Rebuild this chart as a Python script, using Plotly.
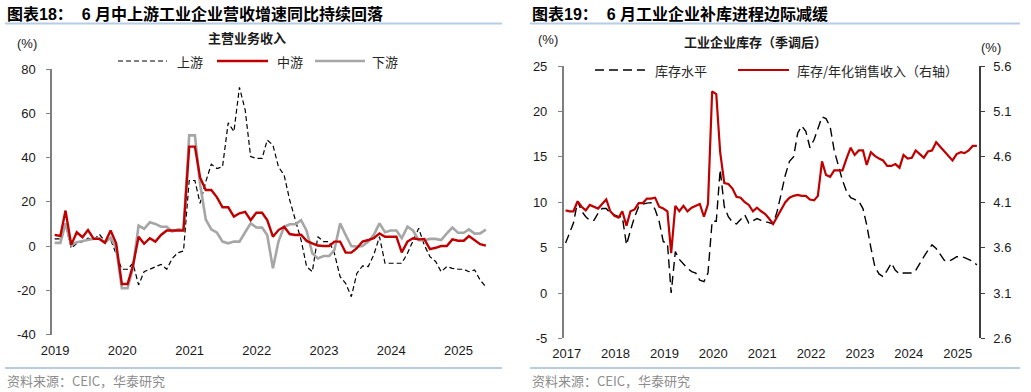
import plotly.graph_objects as go
import pandas as pd

W, H = 1031, 392

# ---------------- Left chart data: 主营业务收入 (Jan 2019 - Jun 2025) ----------------
left_months = pd.date_range("2019-01-01", "2025-06-01", freq="MS") + pd.Timedelta(days=14)
upstream = [3.2, 3.2, 9.8, -1.0, 1.2, 2.0, 3.6, 2.7, 5.3, 2.0, 3.0, -3.3,
            -10.5, -10.5, -7.8, -17.6, -11.6, -10.5, -9.3, -8.3, -10.5, -5.6, -3.0, -2.3,
            29.6, 29.6, 19.3, 29.0, 37.0, 35.0, 35.8, 55.7, 51.7, 71.7, 61.5, 40.4,
            39.6, 39.6, 47.9, 45.6, 35.8, 32.0, 20.8, 11.7, 2.7, -9.3, -11.6, 4.2,
            2.0, 2.0, -3.3, -13.9, -16.9, -22.9, -12.4, -9.0, -9.3, -4.0, 4.2, -7.8,
            -7.8, -7.8, -7.8, -3.3, 2.0, 8.0, 0.5, -4.8, -7.0, -11.6, -9.3, -10.1,
            -10.5, -10.5, -11.6, -10.8, -15.4, -18.4]
midstream = [5.0, 4.5, 16.0, 0.5, 6.2, 4.0, 7.2, 3.2, 3.2, 1.5, 7.0, 1.2,
             -17.2, -17.2, -9.0, 4.2, 1.0, 3.5, 2.0, 5.0, 7.0, 7.0, 6.8, 7.0,
             44.9, 44.9, 31.0, 25.3, 25.3, 22.0, 17.5, 17.5, 13.3, 14.8, 15.4, 11.7,
             15.0, 15.0, 11.7, 4.2, 7.2, 8.7, 5.4, 5.0, 5.1, 2.3, 1.2, 0.2,
             0.0, 0.0, 2.0, 2.0, -3.0, -3.0, -1.0, 2.0, 2.7, 3.5, 5.7, 4.2,
             4.2, 4.2, -2.9, 2.0, 3.5, 3.0, 3.2, -1.4, -0.8, 0.0, 0.0, 3.0,
             2.4, 2.4, 4.5, 2.7, 0.8, 0.2]
downstream = [1.4, 1.4, 10.2, 0.5, 1.7, 2.3, 2.6, 3.3, 3.5, 1.5, 3.8, -1.0,
              -19.1, -19.1, -10.0, 9.2, 7.8, 10.7, 10.0, 8.7, 8.7, 6.5, 7.5, 7.2,
              50.0, 50.0, 28.0, 12.0, 7.5, 6.0, 2.0, 1.2, 2.0, 2.0, 6.2, 10.2,
              8.4, 8.3, 5.0, -10.1, 2.0, 8.7, 9.8, 9.8, 11.7, 6.9, -3.3, -5.6,
              -4.5, -4.5, -1.8, 10.2, 5.0, 0.0, -0.3, 0.0, 2.0, 5.0, 10.2, 6.2,
              7.0, 7.0, 3.5, 8.7, 7.0, 2.6, 2.6, 3.2, 3.2, 2.7, 5.7, 8.3,
              6.0, 6.0, 7.5, 5.6, 5.7, 7.4]
left_year_labels = ["2019", "2020", "2021", "2022", "2023", "2024", "2025"]
left_y_vals = [-40, -20, 0, 20, 40, 60, 80]
left_y_text = ["-40", "-20", "0", "20", "40", "60", "80"]

# ---------------- Right chart data: 工业企业库存 (Jan 2017 - Jun 2025) ----------------
right_months = pd.date_range("2017-01-01", "2025-06-01", freq="MS") + pd.Timedelta(days=14)
inventory = [5.5, 6.6, 7.7, 10.1, 9.0, 8.4, 8.0, 8.0, 8.8, 9.3, 9.3, 8.8,
             8.6, 8.4, 8.4, 5.3, 6.9, 8.4, 9.5, 9.8, 9.9, 9.95, 9.2, 7.9,
             5.65, 5.5, 0.0, 4.55, 3.7, 3.2, 2.7, 2.35, 2.2, 1.4, 1.25, 2.2,
             7.9, 7.9, 13.6, 9.5, 8.4, 7.8, 7.6, 8.1, 8.6, 7.7, 8.0, 8.2,
             8.0, 7.9, 7.75, 7.6, 9.0, 11.0, 13.0, 14.5, 15.0, 17.6, 18.4, 17.8,
             16.0, 16.9, 18.1, 19.4, 19.2, 18.3, 15.7, 13.9, 12.4, 11.2, 10.5, 10.3,
             10.1, 9.3, 7.5, 5.0, 2.9, 2.1, 1.8, 2.5, 3.3, 2.5, 2.1, 2.2,
             2.2, 2.2, 2.5, 3.3, 4.0, 4.7, 5.3, 4.9, 4.2, 3.6, 3.5, 3.7,
             4.0, 4.0, 3.9, 3.7, 3.5, 3.1]
inv_ratio = [4.01, 4.00, 4.00, 4.11, 4.05, 4.01, 4.07, 4.05, 4.03, 4.08, 4.13, 4.00,
             3.95, 3.93, 4.00, 3.84, 4.00, 4.02, 4.09, 4.09, 4.14, 4.14, 4.15, 4.05,
             4.03, 4.00, 3.54, 4.06, 4.00, 4.06, 4.00, 4.04, 4.06, 4.08, 3.94, 4.08,
             5.32, 5.29, 4.65, 4.31, 4.30, 4.25, 4.16, 4.15, 4.10, 4.07, 4.00, 4.04,
             4.00, 3.97, 3.92, 3.86, 3.94, 4.02, 4.10, 4.15, 4.17, 4.18, 4.17, 4.17,
             4.13, 4.12, 4.17, 4.55, 4.40, 4.38, 4.45, 4.45, 4.45, 4.58, 4.70, 4.62,
             4.67, 4.67, 4.51, 4.65, 4.61, 4.58, 4.56, 4.50, 4.50, 4.52, 4.48, 4.62,
             4.58, 4.59, 4.67, 4.63, 4.59, 4.66, 4.67, 4.76, 4.71, 4.67, 4.62, 4.56,
             4.63, 4.65, 4.64, 4.67, 4.72, 4.72]
right_year_labels = ["2017", "2018", "2019", "2020", "2021", "2022", "2023", "2024", "2025"]
right_y_vals = [-5, 0, 5, 10, 15, 20, 25]
right_y_text = ["-5", "0", "5", "10", "15", "20", "25"]
right_y2_vals = [2.6, 3.1, 3.6, 4.1, 4.6, 5.1, 5.6]
right_y2_text = ["2.6", "3.1", "3.6", "4.1", "4.6", "5.1", "5.6"]

# ---------------- styling ----------------
RED = "#C00000"
GRAY = "#A6A6A6"
BLACK = "#000000"
AXIS_GRAY = "#7F7F7F"
NUM_FONT = "Liberation Sans, Arial, Noto Sans CJK SC"
CJK_FONT = "Noto Sans CJK SC, Liberation Sans"
TXT = "#1a1a1a"

def px_x(p):
    return p / W

def px_y(p):
    return 1 - p / H

fig = go.Figure()

# Left traces
fig.add_trace(go.Scatter(x=left_months, y=upstream, mode="lines", name="上游",
                         line=dict(color=BLACK, width=1.2, dash="5px,3px"),
                         xaxis="x", yaxis="y"))
fig.add_trace(go.Scatter(x=left_months, y=downstream, mode="lines", name="下游",
                         line=dict(color=GRAY, width=2.6), xaxis="x", yaxis="y"))
fig.add_trace(go.Scatter(x=left_months, y=midstream, mode="lines", name="中游",
                         line=dict(color=RED, width=2.4), xaxis="x", yaxis="y"))

# Right traces
fig.add_trace(go.Scatter(x=right_months, y=inventory, mode="lines", name="库存水平",
                         line=dict(color=BLACK, width=1.4, dash="9px,5px"),
                         xaxis="x2", yaxis="y2"))
fig.add_trace(go.Scatter(x=right_months, y=inv_ratio, mode="lines", name="库存/年化销售收入（右轴）",
                         line=dict(color=RED, width=2.2), xaxis="x2", yaxis="y3"))

# domains
L_x = [px_x(52.1), px_x(488.8)]
L_y = [px_y(334.5), px_y(69)]
R_x = [px_x(563.7), px_x(979)]
R_y = [px_y(338.4), px_y(66)]

L_zero = L_y[0] + (0 - (-40)) / 120 * (L_y[1] - L_y[0])
R_zero = R_y[0] + (0 - (-5)) / 30 * (R_y[1] - R_y[0])

left_tickdates = [f"{y}-01-01" for y in left_year_labels]
right_tickdates = [f"{y}-01-01" for y in right_year_labels]

tickfont = dict(family=NUM_FONT, size=13, color=TXT)

common_x = dict(type="date", showgrid=False, zeroline=False, showline=False, ticks="",
                tickfont=tickfont, ticklabelshift=3, ticklabelstandoff=6, automargin=False)
fig.update_layout(
    xaxis=dict(domain=L_x, anchor="y", range=["2019-01-01", "2025-07-01"],
               tickvals=left_tickdates, ticktext=left_year_labels, **common_x),
    yaxis=dict(domain=L_y, anchor="x", range=[-40, 80], tickvals=left_y_vals, ticktext=left_y_text,
               showgrid=False, zeroline=False, showline=True, linecolor=AXIS_GRAY, linewidth=1.5,
               ticks="outside", ticklen=4, tickwidth=1, tickcolor=AXIS_GRAY, tickfont=tickfont,
               ticklabelstandoff=8, automargin=False),
    xaxis3=dict(overlaying="x", anchor="free", position=L_zero, type="date",
                range=["2019-01-01", "2025-07-01"], tickvals=left_tickdates,
                showticklabels=False, ticks="outside", ticklen=4, tickcolor=BLACK, tickwidth=1,
                showline=True, linecolor=BLACK, linewidth=1.2, showgrid=False, zeroline=False,
                automargin=False),
    xaxis2=dict(domain=R_x, anchor="y2", range=["2017-01-01", "2025-07-01"],
                tickvals=right_tickdates, ticktext=right_year_labels, **common_x),
    yaxis2=dict(domain=R_y, anchor="x2", range=[-5, 25], tickvals=right_y_vals, ticktext=right_y_text,
                showgrid=False, zeroline=False, showline=True, linecolor=AXIS_GRAY, linewidth=1.5,
                ticks="outside", ticklen=4, tickwidth=1, tickcolor=AXIS_GRAY, tickfont=tickfont,
                ticklabelstandoff=8, automargin=False),
    yaxis3=dict(overlaying="y2", anchor="x2", side="right", range=[2.6, 5.6],
                tickvals=right_y2_vals, ticktext=right_y2_text,
                showgrid=False, zeroline=False, showline=True, linecolor="#404040", linewidth=1.5,
                ticks="outside", ticklen=4, tickwidth=1, tickcolor="#404040", tickfont=tickfont,
                ticklabelstandoff=6, automargin=False),
    xaxis4=dict(overlaying="x2", anchor="free", position=R_zero, type="date",
                range=["2017-01-01", "2025-07-01"], tickvals=right_tickdates,
                showticklabels=False, ticks="outside", ticklen=4, tickcolor=BLACK, tickwidth=1,
                showline=True, linecolor=BLACK, linewidth=1.2, showgrid=False, zeroline=False,
                automargin=False),
    width=W, height=H, margin=dict(l=0, r=0, t=0, b=0, pad=0), autosize=False,
    paper_bgcolor="white", plot_bgcolor="rgba(0,0,0,0)",
    showlegend=False,
)

shapes = []
annotations = []

def text(x, y, s, size=13, bold=False, color=TXT, anchor="left", family=CJK_FONT):
    annotations.append(dict(x=px_x(x), y=px_y(y), xref="paper", yref="paper",
                            text=f"<b>{s}</b>" if bold else s, showarrow=False,
                            xanchor=anchor, yanchor="middle",
                            font=dict(family=family, size=size, color=color)))

def hline(x0, x1, y, color, width, dash="solid"):
    shapes.append(dict(type="line", xref="paper", yref="paper",
                       x0=px_x(x0), x1=px_x(x1), y0=px_y(y), y1=px_y(y),
                       line=dict(color=color, width=width, dash=dash)))

SEP = "#B8CCE4"
# Header/footer separators
hline(5, 502, 23.5, SEP, 1.8)
hline(530, 1020, 23.5, SEP, 1.8)
hline(5, 502, 368, SEP, 1.8)
hline(530, 1020, 368, SEP, 1.8)

# Titles
text(5, 14, "图表18：  6 月中上游工业企业营收增速同比持续回落", size=16, bold=True, color="#000",
     family="Liberation Sans, Noto Sans CJK SC")
text(530, 14, "图表19：  6 月工业企业补库进程边际减缓", size=16, bold=True, color="#000",
     family="Liberation Sans, Noto Sans CJK SC")

# Sources
text(5, 380, "资料来源：CEIC，华泰研究", size=13, color="#8C8C8C",
     family="Noto Sans CJK SC, Liberation Sans")
text(530, 380, "资料来源：CEIC，华泰研究", size=13, color="#8C8C8C",
     family="Noto Sans CJK SC, Liberation Sans")

# Unit labels
text(27, 43, "(%)", size=13, anchor="center", family=NUM_FONT)
text(548, 39, "(%)", size=13, anchor="center", family=NUM_FONT)
text(991, 47, "(%)", size=13, anchor="center", family=NUM_FONT)

# Subtitles
text(247, 38, "主营业务收入", size=13, bold=True, anchor="center")
text(755, 42, "工业企业库存（季调后）", size=13, bold=True, anchor="center")

# Manual legends
LEG = "#262626"
hline(118, 167, 61, BLACK, 1.2, "5px,3px")
text(175, 61, "上游", size=13, color=LEG)
hline(217, 268, 61, RED, 2.4)
text(275, 61, "中游", size=13, color=LEG)
hline(315, 365, 61, GRAY, 2.6)
text(370, 61, "下游", size=13, color=LEG)

hline(595, 645, 70, BLACK, 1.4, "9px,5px")
text(653, 70, "库存水平", size=13, color=LEG)
hline(738, 789, 70, RED, 2.2)
text(795, 70, "库存/年化销售收入（右轴）", size=13, color=LEG)

fig.update_layout(shapes=shapes, annotations=annotations)

fig.write_html("out.html",
               config={"displayModeBar": False},
               post_script="document.body.style.margin='0';document.body.style.overflow='hidden';")
